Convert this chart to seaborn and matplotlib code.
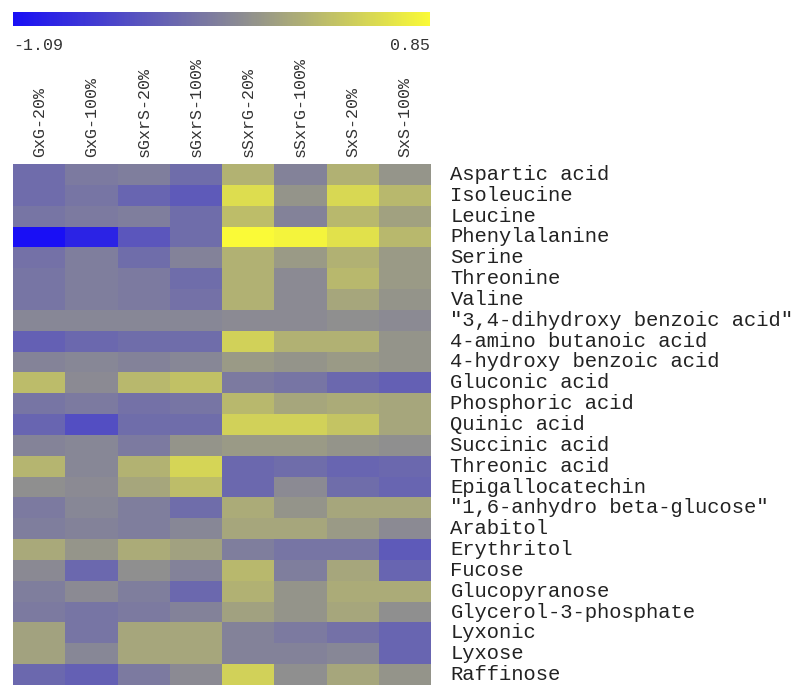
import numpy as np
import pandas as pd
import seaborn as sns
import matplotlib
matplotlib.use("Agg")
import matplotlib.pyplot as plt
from matplotlib.colors import LinearSegmentedColormap, Normalize
from matplotlib.cm import ScalarMappable

# Sample groups (columns)
samples = ["GxG-20%", "GxG-100%", "sGxrS-20%", "sGxrS-100%",
           "sSxrG-20%", "sSxrG-100%", "SxS-20%", "SxS-100%"]

# Metabolites (rows)
metabolites = [
    "Aspartic acid", "Isoleucine", "Leucine", "Phenylalanine", "Serine",
    "Threonine", "Valine", '"3,4-dihydroxy benzoic acid"',
    "4-amino butanoic acid", "4-hydroxy benzoic acid", "Gluconic acid",
    "Phosphoric acid", "Quinic acid", "Succinic acid", "Threonic acid",
    "Epigallocatechin", '"1,6-anhydro beta-glucose"', "Arabitol",
    "Erythritol", "Fucose", "Glucopyranose", "Glycerol-3-phosphate",
    "Lyxonic", "Lyxose", "Raffinose",
]

# Relative abundance per metabolite, one list per sample column
gxg_20 = [-0.30, -0.30, -0.22, -1.09, -0.25, -0.22, -0.22, -0.07, -0.40, -0.10,
          0.35, -0.22, -0.36, -0.10, 0.30, 0.00, -0.18, -0.15, 0.20, -0.05,
          -0.15, -0.18, 0.15, 0.15, -0.33]
gxg_100 = [-0.18, -0.22, -0.18, -0.92, -0.15, -0.15, -0.15, -0.07, -0.33, -0.07,
           -0.04, -0.18, -0.55, -0.07, -0.07, -0.04, -0.07, -0.11, 0.05, -0.33,
           -0.04, -0.22, -0.22, -0.07, -0.40]
sgxrs_20 = [-0.15, -0.36, -0.15, -0.48, -0.29, -0.18, -0.18, -0.07, -0.29, -0.11,
            0.32, -0.25, -0.29, -0.18, 0.28, 0.18, -0.15, -0.15, 0.22, 0.00,
            -0.15, -0.18, 0.18, 0.18, -0.18]
sgxrs_100 = [-0.29, -0.45, -0.29, -0.29, -0.11, -0.29, -0.25, -0.07, -0.29, -0.07,
             0.40, -0.22, -0.29, 0.04, 0.55, 0.36, -0.29, -0.07, 0.14, -0.11,
             -0.33, -0.11, 0.18, 0.18, -0.04]
ssxrg_20 = [0.28, 0.62, 0.36, 0.85, 0.27, 0.27, 0.27, -0.04, 0.52, 0.09,
            -0.18, 0.32, 0.52, 0.09, -0.33, -0.33, 0.22, 0.18, -0.15, 0.32,
            0.27, 0.14, -0.11, -0.11, 0.52]
ssxrg_100 = [-0.11, 0.04, -0.11, 0.80, 0.09, -0.04, -0.04, -0.04, 0.27, 0.04,
             -0.22, 0.18, 0.52, 0.09, -0.29, -0.04, 0.04, 0.18, -0.22, -0.15,
             0.04, 0.04, -0.18, -0.11, 0.00]
sxs_20 = [0.27, 0.58, 0.32, 0.65, 0.27, 0.32, 0.18, 0.00, 0.27, 0.09,
          -0.33, 0.22, 0.42, 0.04, -0.36, -0.29, 0.18, 0.09, -0.22, 0.18,
          0.22, 0.18, -0.25, -0.07, 0.18]
sxs_100 = [0.05, 0.32, 0.14, 0.32, 0.09, 0.09, 0.04, -0.04, 0.04, 0.04,
           -0.40, 0.18, 0.18, 0.00, -0.33, -0.36, 0.18, -0.04, -0.45, -0.36,
           0.22, 0.00, -0.36, -0.36, 0.04]

vmin, vmax = -1.09, 0.85

df = pd.DataFrame(
    np.column_stack([gxg_20, gxg_100, sgxrs_20, sgxrs_100,
                     ssxrg_20, ssxrg_100, sxs_20, sxs_100]),
    index=metabolites, columns=samples,
)

# Blue -> gray -> yellow, with gray at zero
mid = (0 - vmin) / (vmax - vmin)
cmap = LinearSegmentedColormap.from_list(
    "blue_gray_yellow",
    [(0.0, (25 / 255, 15 / 255, 245 / 255)),
     (mid, (143 / 255, 143 / 255, 143 / 255)),
     (1.0, (250 / 255, 250 / 255, 55 / 255))],
)

sns.set_theme(style="white")
mono = ["Liberation Mono", "DejaVu Sans Mono"]
plt.rcParams["font.family"] = mono

W, H = 801, 686
fig = plt.figure(figsize=(W / 100, H / 100), dpi=100)

# Heatmap axes
hx0, hx1, hy0, hy1 = 13, 431, 164, 685
ax = fig.add_axes([hx0 / W, 1 - hy1 / H, (hx1 - hx0) / W, (hy1 - hy0) / H])
sns.heatmap(df, ax=ax, cmap=cmap, vmin=vmin, vmax=vmax, cbar=False,
            linewidths=0, square=False)

ax.xaxis.tick_top()
ax.set_xticklabels(samples, rotation=90, fontsize=12, color="#333333")
ax.tick_params(axis="x", length=0, pad=5)
ax.yaxis.tick_right()
ax.set_yticklabels(metabolites, rotation=0, fontsize=14.8, color="#222222",
                   ha="left", va="center")
ax.tick_params(axis="y", length=0, pad=14)
ax.set_xlabel("")
ax.set_ylabel("")

# Colour bar along the top
cx0, cx1, cy0, cy1 = 13, 430, 12, 26
cax = fig.add_axes([cx0 / W, 1 - cy1 / H, (cx1 - cx0) / W, (cy1 - cy0) / H])
sm = ScalarMappable(norm=Normalize(vmin=vmin, vmax=vmax), cmap=cmap)
cb = fig.colorbar(sm, cax=cax, orientation="horizontal")
cb.outline.set_visible(False)
cb.set_ticks([vmin, vmax])
cb.set_ticklabels(["-1.09", "0.85"])
cax.tick_params(axis="x", length=0, pad=9, labelsize=12, labelcolor="#333333")
labels = cax.get_xticklabels()
labels[0].set_ha("left")
labels[1].set_ha("right")

fig.savefig("out.png", dpi=100)
